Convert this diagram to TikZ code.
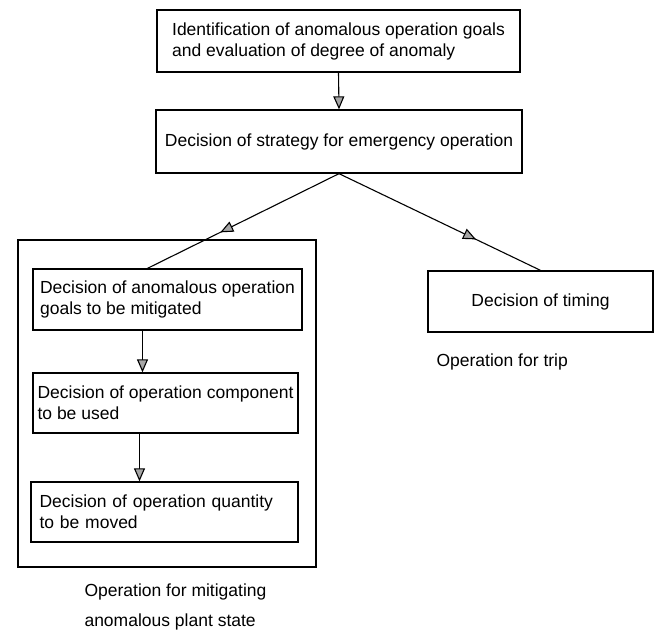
\documentclass[tikz,border=0pt]{standalone}
\usepackage{fontspec}
\setmainfont{Liberation Sans}
\usetikzlibrary{arrows.meta, decorations.markings}

\begin{document}
\begin{tikzpicture}[x=1pt, y=-1pt,
    block/.style={
        rectangle, draw=black, line width=1.3pt,
        inner sep=0pt, align=left,
        font=\fontsize{17.5}{21}\selectfont
    },
    flowarrow/.style={-{Triangle[length=13pt, width=11pt, fill=gray!70]}, line width=1.1pt},
    midarrow/.style={line width=1.1pt, postaction={decorate},
        decoration={markings, mark=at position #1 with
            {\arrow{Triangle[length=13pt, width=11pt, fill=gray!70]}}}},
    note/.style={font=\fontsize{17.5}{30}\selectfont, align=left},
]
\useasboundingbox (0,0) rectangle (655,632);

% Riquadro esterno
\node[draw, line width=1.3pt, minimum width=298pt, minimum height=327pt] (mitig) at (167,403.5) {};

% Blocchi
\node[block, minimum width=363pt, minimum height=62pt] (ident) at (338.5,41)
    {Identification of anomalous operation goals\\and evaluation of degree of anomaly};
\node[block, minimum width=366pt, minimum height=63pt] (strat) at (339,141.5)
    {Decision of strategy for emergency operation};
\node[block, minimum width=269pt, minimum height=61pt] (goals) at (167.5,299.5)
    {Decision of anomalous operation\\goals to be mitigated};
\node[block, minimum width=265pt, minimum height=60pt] (comp) at (165.5,403)
    {Decision of operation component\\to be used};
\node[block, minimum width=267pt, minimum height=60pt, text width=250pt] (qty) at (164.5,512)
    {Decision of operation quantity\\to be moved};
\node[block, minimum width=225pt, minimum height=61pt] (timing) at (540.5,301.5)
    {Decision of timing};

% Etichette
\node[note, anchor=west] (trip) at (433,362) {Operation for trip};
\node[note, anchor=west] (mitiglab) at (81,607) {Operation for mitigating\\anomalous plant state};

% Frecce
\draw[flowarrow] (ident.south) -- (strat.north);
\draw[midarrow=0.62] (strat.south) -- ([xshift=-20pt]goals.north);
\draw[midarrow=0.68] (strat.south) -- (timing.north);
\draw[flowarrow] ([xshift=-25pt]goals.south) -- ([xshift=-25pt]goals.south |- comp.north);
\draw[flowarrow] ([xshift=-26pt]comp.south) -- ([xshift=-26pt]comp.south |- qty.north);

\end{tikzpicture}
\end{document}
